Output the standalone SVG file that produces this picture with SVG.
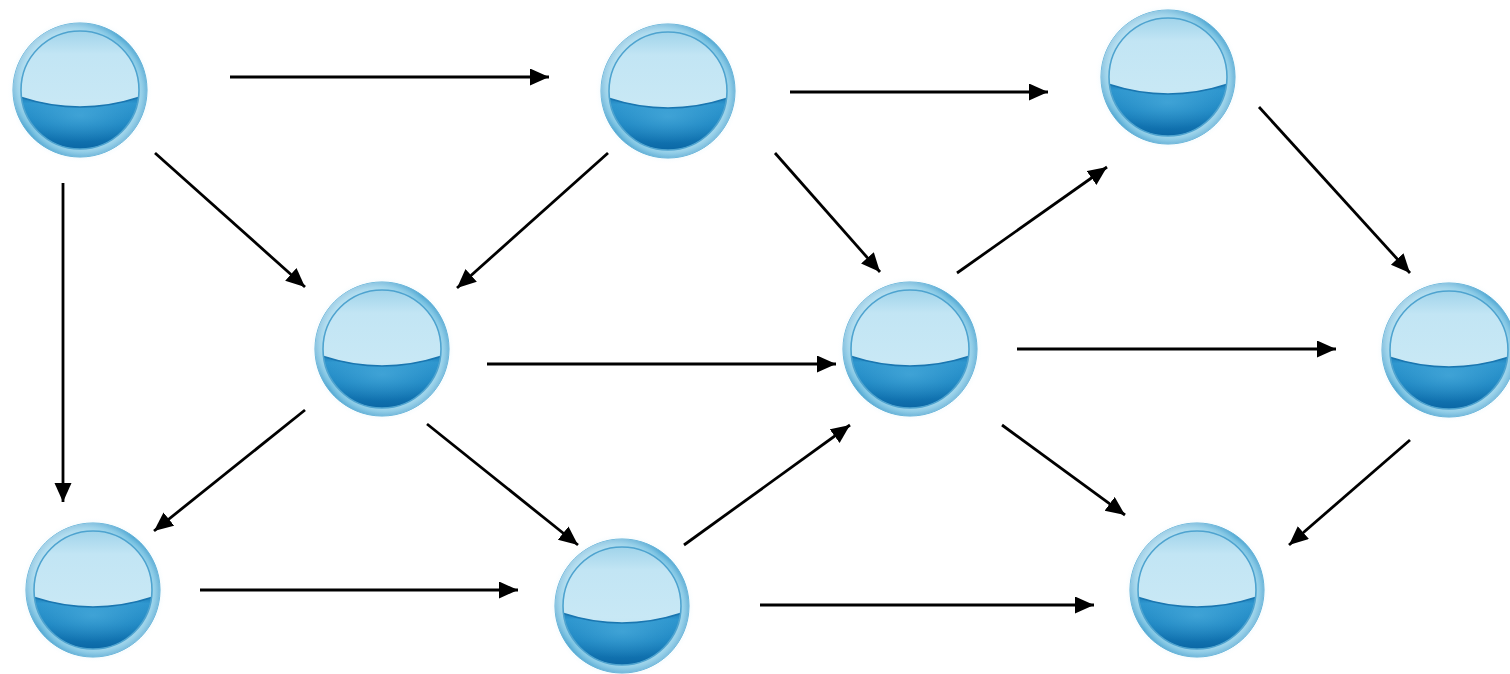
<svg xmlns="http://www.w3.org/2000/svg" width="1510" height="674" viewBox="0 0 1510 674">
  <style>
    .edge { stroke: #000; stroke-width: 2.8; fill: none; marker-end: url(#head); }
  </style>
  <defs>
    <marker id="head" markerUnits="userSpaceOnUse" markerWidth="20" markerHeight="18" refX="19" refY="8.5" orient="auto">
      <path d="M0,0 L19,8.5 L0,17 Z" fill="#000"/>
    </marker>
    <radialGradient id="ringGrad" cx="0.5" cy="0.5" r="0.5">
      <stop offset="0.84" stop-color="#9ed6ec"/>
      <stop offset="0.93" stop-color="#78c2e2"/>
      <stop offset="1" stop-color="#4fa6d2"/>
    </radialGradient>
    <linearGradient id="ringShine" x1="0" y1="0" x2="1" y2="1">
      <stop offset="0" stop-color="#ffffff" stop-opacity="0.7"/>
      <stop offset="0.45" stop-color="#ffffff" stop-opacity="0"/>
      <stop offset="1" stop-color="#ffffff" stop-opacity="0.35"/>
    </linearGradient>
    <radialGradient id="glowGrad" cx="0.5" cy="0.5" r="0.5">
      <stop offset="0.88" stop-color="#e6f5fb" stop-opacity="0.9"/>
      <stop offset="1" stop-color="#ffffff" stop-opacity="0"/>
    </radialGradient>
    <linearGradient id="topGrad" x1="0" y1="0" x2="0" y2="1">
      <stop offset="0" stop-color="#9fd3ea"/>
      <stop offset="0.2" stop-color="#c2e5f4"/>
      <stop offset="0.6" stop-color="#c8e8f5"/>
      <stop offset="1" stop-color="#a5d5eb"/>
    </linearGradient>
    <linearGradient id="bottomGrad" x1="0" y1="0" x2="0" y2="1">
      <stop offset="0" stop-color="#1e7fba"/>
      <stop offset="0.12" stop-color="#2f97cf"/>
      <stop offset="0.5" stop-color="#1d86c2"/>
      <stop offset="1" stop-color="#0a66a4"/>
    </linearGradient>
    <radialGradient id="bottomGlow" cx="0.5" cy="0.35" r="0.5">
      <stop offset="0" stop-color="#5ab8e4" stop-opacity="0.5"/>
      <stop offset="1" stop-color="#5ab8e4" stop-opacity="0"/>
    </radialGradient>
    <clipPath id="innerClip">
      <circle r="59"/>
    </clipPath>
    <!-- glossy node sphere, centred on the origin -->
    <g id="sphere">
      <circle r="73" fill="url(#glowGrad)"/>
      <circle r="67" fill="url(#ringGrad)" stroke="#5aaed6" stroke-width="1"/>
      <circle r="67" fill="url(#ringShine)"/>
      <g clip-path="url(#innerClip)">
        <rect x="-60" y="-60" width="120" height="120" fill="url(#topGrad)"/>
        <path d="M-60,7 Q0,27 60,7 L60,60 L-60,60 Z" fill="url(#bottomGrad)"/>
        <path d="M-60,7 Q0,27 60,7 L60,60 L-60,60 Z" fill="url(#bottomGlow)"/>
        <path d="M-60,7 Q0,27 60,7" fill="none" stroke="#1a76b0" stroke-width="1.6"/>
      </g>
      <circle r="59" fill="none" stroke="#4ea3cf" stroke-width="1.6"/>
    </g>
  </defs>

  <rect width="1510" height="674" fill="#fff"/>

  <g id="node1"><use href="#sphere" x="80" y="90"/></g>
  <g id="node2"><use href="#sphere" x="668" y="91"/></g>
  <g id="node3"><use href="#sphere" x="1168" y="77"/></g>
  <g id="node4"><use href="#sphere" x="382" y="349"/></g>
  <g id="node5"><use href="#sphere" x="910" y="349"/></g>
  <g id="node6"><use href="#sphere" x="1449" y="350"/></g>
  <g id="node7"><use href="#sphere" x="93" y="590"/></g>
  <g id="node8"><use href="#sphere" x="622" y="606"/></g>
  <g id="node9"><use href="#sphere" x="1197" y="590"/></g>

  <g id="connectors">
    <line class="edge" x1="230" y1="77" x2="549" y2="77"/>
    <line class="edge" x1="790" y1="92" x2="1048" y2="92"/>
    <line class="edge" x1="155" y1="153" x2="305" y2="287"/>
    <line class="edge" x1="608" y1="153" x2="457" y2="288"/>
    <line class="edge" x1="63" y1="183" x2="63" y2="502"/>
    <line class="edge" x1="775" y1="153" x2="880" y2="272"/>
    <line class="edge" x1="957" y1="273" x2="1107" y2="167"/>
    <line class="edge" x1="1259" y1="107" x2="1410" y2="273"/>
    <line class="edge" x1="487" y1="364" x2="836" y2="364"/>
    <line class="edge" x1="1017" y1="349" x2="1336" y2="349"/>
    <line class="edge" x1="305" y1="410" x2="154" y2="531"/>
    <line class="edge" x1="427" y1="424" x2="578" y2="545"/>
    <line class="edge" x1="684" y1="545" x2="850" y2="425"/>
    <line class="edge" x1="1002" y1="425" x2="1125" y2="515"/>
    <line class="edge" x1="1410" y1="440" x2="1289" y2="545"/>
    <line class="edge" x1="200" y1="590" x2="518" y2="590"/>
    <line class="edge" x1="760" y1="605" x2="1094" y2="605"/>
  </g>
</svg>
